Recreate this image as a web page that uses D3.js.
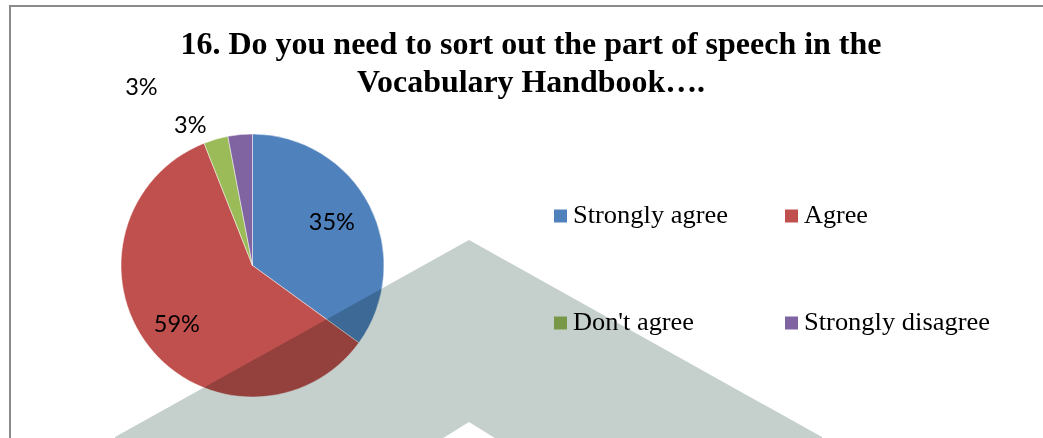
<!DOCTYPE html>
<html>
<head>
<meta charset="utf-8">
<script src="https://cdn.jsdelivr.net/npm/d3@7"></script>
<style>
  html, body { margin: 0; padding: 0; background: #fff; }
  svg { display: block; }
</style>
</head>
<body>
<svg id="chart" width="1043" height="438"></svg>
<script>
// Survey answers for question 16
const categories = ["Strongly agree", "Agree", "Don't agree", "Strongly disagree"];
const percents = [35, 59, 3, 3];
const percentLabels = ["35%", "59%", "3%", "3%"];
const colors = ["#4F81BD", "#C0504D", "#9BBB59", "#8064A2"];
const titleLines = ["16. Do you need to sort out the part of speech in the", "Vocabulary Handbook…."];

const svg = d3.select("#chart");
const W = 1043, H = 438;

// Frame (top and left rules)
svg.append("path")
  .attr("d", `M10,${H} L10,6 L${W},6`)
  .attr("fill", "none")
  .attr("stroke", "#8a8a8a")
  .attr("stroke-width", 2);

// Title
const title = svg.append("g")
  .attr("font-family", "'Liberation Serif', 'Times New Roman', serif")
  .attr("font-weight", "bold")
  .attr("font-size", 31)
  .attr("fill", "#000")
  .attr("text-anchor", "middle");
const titleWidths = [701, 348];
titleLines.forEach((t, i) => {
  title.append("text")
    .attr("x", 531)
    .attr("y", 54 + i * 38)
    .attr("textLength", titleWidths[i])
    .attr("lengthAdjust", "spacingAndGlyphs")
    .text(t);
});

// Pie
const cx = 252.5, cy = 265.5, R = 131.5;
const pie = d3.pie().sort(null).value(d => d);
const arcs = pie(percents);
const arc = d3.arc().innerRadius(0).outerRadius(R);
const color = d3.scaleOrdinal().domain(categories).range(colors);

const gPie = svg.append("g").attr("transform", `translate(${cx},${cy})`);
gPie.selectAll("path.slice")
  .data(arcs)
  .join("path")
  .attr("class", "slice")
  .attr("d", arc)
  .attr("fill", (d, i) => color(categories[i]))
  .attr("stroke", "#ffffff")
  .attr("stroke-opacity", 0.6)
  .attr("stroke-width", 0.8);

// Data labels: large slices inside, thin slices pushed outward
const labelArc = (r) => d3.arc().innerRadius(r).outerRadius(r);
const labelPlacement = [
  { r: 91, shift: -0.04 },
  { r: 95, shift: 0.01 },
  { r: 155, shift: -0.13 },
  { r: 211, shift: -0.46 }
];
gPie.selectAll("text.pct")
  .data(arcs)
  .join("text")
  .attr("class", "pct")
  .attr("transform", (d, i) => {
    const p = labelPlacement[i];
    const mid = (d.startAngle + d.endAngle) / 2 + p.shift;
    const [x, y] = labelArc(p.r).centroid({ startAngle: mid, endAngle: mid });
    return `translate(${x},${y})`;
  })
  .attr("text-anchor", "middle")
  .attr("dominant-baseline", "central")
  .attr("font-family", "Lato, 'Open Sans', sans-serif")
  .attr("font-size", 23.5)
  .attr("fill", "#000")
  .text((d, i) => percentLabels[i]);

// Legend, two columns by two rows
const legendX = d3.scalePoint().domain([0, 1]).range([554, 785]);
const legendY = d3.scalePoint().domain([0, 1]).range([216, 323]);
const legendWidths = [155, 64, 121, 186];
const legend = svg.append("g");
const items = legend.selectAll("g.item")
  .data(categories)
  .join("g")
  .attr("class", "item")
  .attr("transform", (d, i) => `translate(${legendX(i % 2)},${legendY(Math.floor(i / 2))})`);
items.append("rect")
  .attr("x", 0).attr("y", -6.5)
  .attr("width", 13).attr("height", 13)
  .attr("fill", d => color(d));
items.append("text")
  .attr("x", 19)
  .attr("y", 7)
  .attr("font-family", "'Liberation Serif', 'Times New Roman', serif")
  .attr("font-size", 25)
  .attr("fill", "#000")
  .attr("textLength", (d, i) => legendWidths[i])
  .attr("lengthAdjust", "spacingAndGlyphs")
  .text(d => d);

// Chevron watermark laid over the chart
const mark = [[469, 240], [822, 437], [822, 440], [498, 440], [469, 422], [440, 440], [115, 440], [115, 437]];
svg.append("path")
  .attr("d", d3.line()(mark) + "Z")
  .attr("fill", "#C5D0CC")
  .style("mix-blend-mode", "multiply");
</script>
</body>
</html>
